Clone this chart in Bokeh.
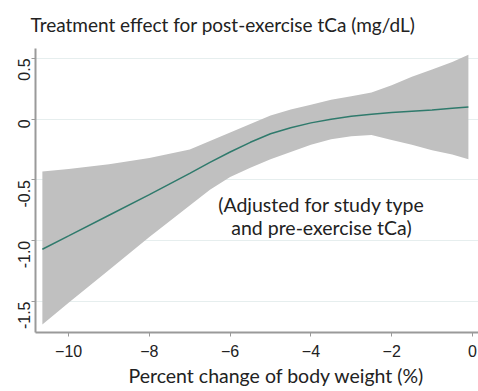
from math import pi
from bokeh.plotting import figure
from bokeh.models import Range1d, FixedTicker, Label, ColumnDataSource, Title
from bokeh.embed import file_html
from bokeh.resources import INLINE

# ---- data ----
weight_change = [-10.65, -10, -9, -8, -7, -6.5, -6, -5.5, -5, -4.5, -4, -3.5, -3, -2.5, -2, -1.5, -1, -0.5, -0.1]
effect_mean = [-1.07, -0.96, -0.79, -0.62, -0.445, -0.355, -0.27, -0.19, -0.12, -0.07, -0.03, 0.0, 0.025, 0.04, 0.055, 0.065, 0.075, 0.09, 0.10]
effect_upper = [-0.43, -0.41, -0.37, -0.32, -0.25, -0.18, -0.11, -0.04, 0.03, 0.08, 0.12, 0.16, 0.19, 0.22, 0.28, 0.35, 0.41, 0.47, 0.53]
effect_lower = [-1.69, -1.51, -1.24, -0.97, -0.71, -0.58, -0.475, -0.40, -0.33, -0.27, -0.21, -0.165, -0.14, -0.13, -0.17, -0.21, -0.255, -0.29, -0.33]

x_ticks = [-10, -8, -6, -4, -2, 0]
y_ticks = [0.5, 0.0, -0.5, -1.0, -1.5]
y_tick_labels = ["0.5", "0", "-0.5", "-1.0", "-1.5"]

title_text = "Treatment effect for post-exercise  tCa (mg/dL)"
x_label = "Percent change of body weight (%)"
note_lines = ["(Adjusted for study type", "and pre-exercise tCa)"]

src = ColumnDataSource(dict(x=weight_change, mean=effect_mean, lo=effect_lower, hi=effect_upper))

p = figure(width=478, height=391, output_backend="svg", toolbar_location=None,
           x_range=Range1d(-10.82, 0.15), y_range=Range1d(-1.755, 0.582),
           min_border_left=35, min_border_right=0, min_border_top=48, min_border_bottom=59)

p.title.text = ""
p.outline_line_color = None
p.background_fill_color = "white"
p.border_fill_color = "white"

# small spacer between frame and title, then the title itself
p.add_layout(Title(text=" ", text_font_size="10px", standoff=0), "above")
p.add_layout(Title(text=title_text, text_font="Lato", text_font_size="19px",
                   text_font_style="normal", text_color="#222222", align="left",
                   offset=-5, standoff=0, vertical_align="bottom"), "above")

p.varea(x="x", y1="lo", y2="hi", source=src, fill_color="#c0c0c0", fill_alpha=1.0)
p.line(x="x", y="mean", source=src, line_color="#2f7a6c", line_width=1.5)

p.xgrid.visible = False
p.ygrid.ticker = FixedTicker(ticks=y_ticks)
p.ygrid.grid_line_color = "#e6eeee"
p.ygrid.grid_line_width = 1

for ax in (p.xaxis[0], p.yaxis[0]):
    ax.axis_line_color = "#9a9a9a"
    ax.axis_line_width = 2
    ax.major_tick_line_color = "#9a9a9a"
    ax.major_tick_line_width = 1
    ax.major_tick_out = 4
    ax.major_tick_in = 0
    ax.minor_tick_line_color = None
    ax.major_label_text_font = "Liberation Sans"
    ax.major_label_text_font_size = "16px"
    ax.major_label_text_color = "#222222"

p.xaxis.ticker = FixedTicker(ticks=x_ticks)
p.xaxis.major_label_standoff = 8

p.yaxis.ticker = FixedTicker(ticks=y_ticks)
p.yaxis.major_label_overrides = dict(zip(y_ticks, y_tick_labels))
p.yaxis.major_label_orientation = pi / 2
p.yaxis.major_label_standoff = 7

# x-axis title, placed slightly right of the frame centre as in the reference
p.add_layout(Title(text=x_label, text_font="Lato", text_font_size="19.5px",
                   text_font_style="normal", text_color="#222222", align="left",
                   offset=93, standoff=4, vertical_align="bottom"), "below")

for i, line in enumerate(note_lines):
    p.add_layout(Label(x=-3.74, y=-0.70 - 0.19 * i, text=line, text_align="center",
                       text_baseline="alphabetic", text_font="Lato", text_font_size="19.5px",
                       text_color="#222222"))

open("out.html", "w").write(file_html(p, INLINE))
